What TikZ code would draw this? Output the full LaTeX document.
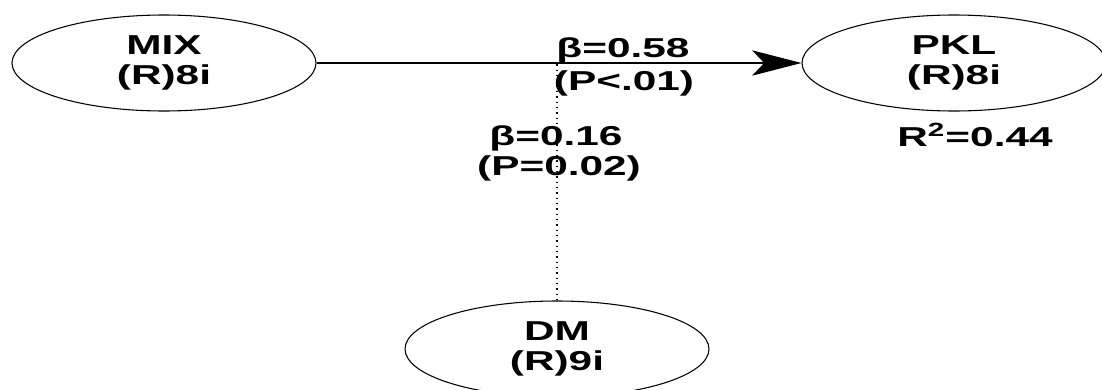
\documentclass[tikz,border=0pt]{standalone}
\usepackage{fontspec}
\setmainfont{Liberation Sans}
\usetikzlibrary{arrows.meta,shapes.geometric}
\newcommand{\wide}[1]{\scalebox{1.55}[1]{#1}}
\tikzset{
  lat/.style={ellipse,draw,line width=0.8pt,minimum width=228pt,minimum height=72pt,inner sep=0pt,
    font=\fontsize{20.5pt}{22.5pt}\selectfont\bfseries,align=center},
  lbl/.style={inner sep=0pt,font=\fontsize{20.5pt}{22.5pt}\selectfont\bfseries,align=center},
  path1/.style={line width=1pt,-{Stealth[length=37pt,width=19pt,inset=9pt]}},
  path2/.style={line width=1pt,dash pattern=on 1pt off 3pt}
}
\begin{document}
\begin{tikzpicture}[x=0.75pt,y=-0.75pt]
\useasboundingbox (0,0) rectangle (1102,389);
\clip (0,0) rectangle (1102,389);
\fill[white] (0,0) rectangle (1102,389);
\node[lat] (mix) at (164,63) {\wide{MIX}\\\wide{(R)8i}};
\node[lat] (pkl) at (954,63) {\wide{PKL}\\\wide{(R)8i}};
\node[lat] (dm) at (557,349) {\wide{DM}\\\wide{(R)9i}};
\coordinate (j) at (557,63);
\draw[path1] (mix.east) -- (pkl.west);
\draw[path2] (dm.north) -- (j);
\node[lbl] (b1) at (623,50) {\wide{β=0.58}};
\node[lbl] (p1) at (624,83) {\wide{(P<.01)}};
\node[lbl] (b2) at (556,138) {\wide{β=0.16}};
\node[lbl] (p2) at (559,168) {\wide{(P=0.02)}};
\node[lbl] (r2) at (975,135) {\wide{R\textsuperscript{2}=0.44}};
\end{tikzpicture}
\end{document}
